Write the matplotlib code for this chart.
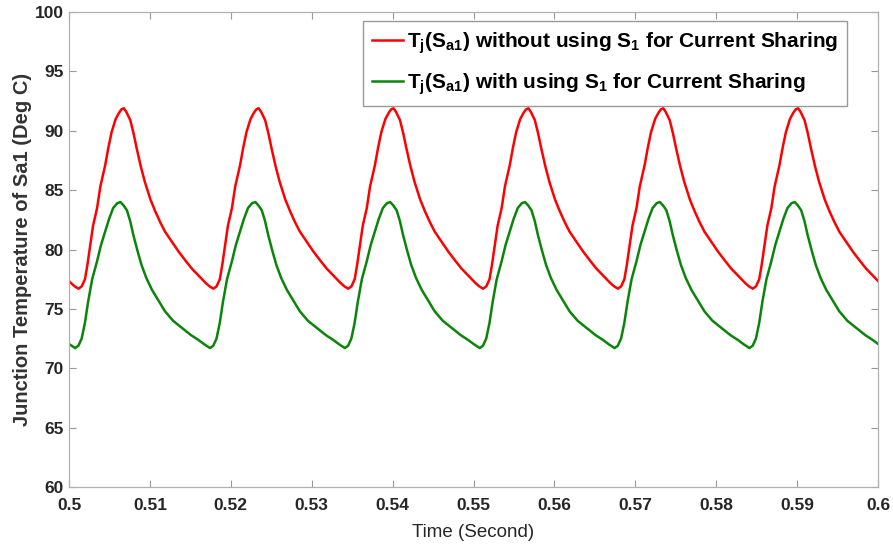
import matplotlib
matplotlib.use('Agg')
import matplotlib.pyplot as plt
import numpy as np

plt.rcParams['font.family'] = ['Liberation Sans', 'DejaVu Sans']
plt.rcParams['mathtext.fontset'] = 'custom'
plt.rcParams['mathtext.rm'] = 'Liberation Sans:bold'
plt.rcParams['mathtext.default'] = 'rm'

# one cycle (time after the red minimum, deg C)
red_phase = [0.0, 0.0004, 0.0008, 0.0011, 0.0014, 0.0018, 0.0023, 0.0027, 0.0033,
             0.0037, 0.0041, 0.0046, 0.0050, 0.0053, 0.0056, 0.0059, 0.0064, 0.0068,
             0.0072, 0.0077, 0.0082, 0.0089, 0.0095, 0.0101, 0.0107, 0.0116, 0.0124,
             0.0133, 0.0140, 0.0150, 0.0157, 0.0162]
red_temp = [76.7, 76.9, 77.5, 78.7, 80.1, 82.0, 83.5, 85.3, 87.1,
            88.6, 89.9, 91.0, 91.5, 91.8, 91.9, 91.6, 90.9, 89.8,
            88.5, 87.0, 85.7, 84.2, 83.2, 82.3, 81.5, 80.6, 79.8,
            79.0, 78.4, 77.7, 77.2, 76.9]

green_phase = [0.0, 0.0004, 0.0008, 0.0012, 0.0016, 0.0021, 0.0027, 0.0032, 0.0037,
               0.0042, 0.0047, 0.0052, 0.0056, 0.0060, 0.0064, 0.0068, 0.0072, 0.0077,
               0.0082, 0.0088, 0.0095, 0.0103, 0.0111, 0.0121, 0.0132, 0.0143, 0.0152,
               0.0160]
green_temp = [71.7, 71.9, 72.5, 73.8, 75.6, 77.5, 79.0, 80.4, 81.5,
              82.6, 83.5, 83.9, 84.0, 83.7, 83.3, 82.4, 81.2, 79.9,
              78.7, 77.6, 76.6, 75.7, 74.8, 74.0, 73.4, 72.8, 72.4,
              72.0]

# times of the minima of each curve
red_minima = [0.48450, 0.50117, 0.51784, 0.53451, 0.55118, 0.56785, 0.58452, 0.60119]
green_minima = [0.48409, 0.50076, 0.51743, 0.53410, 0.55077, 0.56744, 0.58411, 0.60078]

red_t = np.concatenate([np.array(red_phase) + m for m in red_minima])
red_y = np.tile(red_temp, len(red_minima))
green_t = np.concatenate([np.array(green_phase) + m for m in green_minima])
green_y = np.tile(green_temp, len(green_minima))

fig = plt.figure(figsize=(8.93, 5.48), dpi=100)
ax = fig.add_axes([0.0773, 0.1113, 0.9059, 0.8667])

ax.plot(red_t, red_y, color='#ff0000', linewidth=1.8,
        label=r'T$_{j}$(S$_{a1}$) without using S$_{1}$ for Current Sharing')
ax.plot(green_t, green_y, color='#0a850a', linewidth=1.8,
        label=r'T$_{j}$(S$_{a1}$) with using S$_{1}$ for Current Sharing')

ax.set_xlim(0.5, 0.6)
ax.set_ylim(60, 100)
ax.set_xticks(np.arange(0.5, 0.6001, 0.01))
ax.set_xticklabels(['0.5', '0.51', '0.52', '0.53', '0.54', '0.55', '0.56', '0.57', '0.58', '0.59', '0.6'])
ax.set_yticks(np.arange(60, 101, 5))

ax.tick_params(direction='in', top=True, right=True, length=5, width=0.8,
               color='#999999', labelsize=12.5, labelcolor='#262626')
ax.tick_params(axis='x', pad=8)
ax.tick_params(axis='y', pad=4)
for lab in ax.get_xticklabels() + ax.get_yticklabels():
    lab.set_fontweight('bold')
for sp in ax.spines.values():
    sp.set_color('#b0b0b0')
    sp.set_linewidth(0.9)

ax.set_xlabel('Time (Second)', fontsize=13.5, color='#262626', labelpad=8)
ax.set_ylabel('Junction Temperature of Sa1 (Deg C)', fontsize=14.5, fontweight='bold',
              color='#333333', labelpad=2)

leg = ax.legend(loc='upper right', bbox_to_anchor=(0.962, 0.981), borderaxespad=0,
                fancybox=False, framealpha=1, edgecolor='#999999',
                prop={'size': 15, 'weight': 'bold'}, handlelength=1.5,
                handletextpad=0.15, labelspacing=0.75, borderpad=0.45)

plt.savefig('out.png', dpi=100)
